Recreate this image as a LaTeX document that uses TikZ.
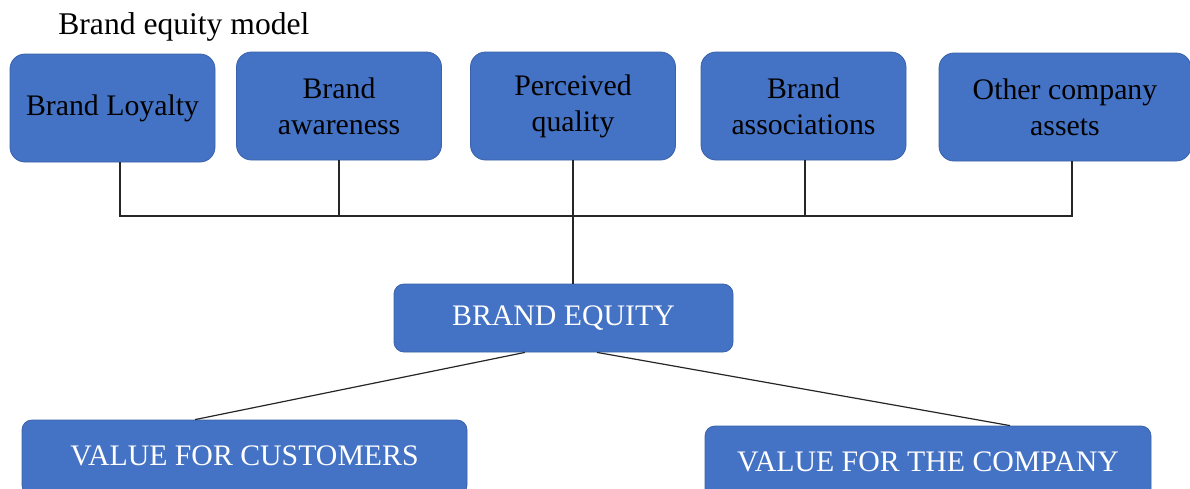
\documentclass[tikz,border=0pt]{standalone}
\usepackage{fontspec}
\setmainfont{Liberation Serif}
\usetikzlibrary{calc}
\definecolor{boxblue}{HTML}{4472C4}
\definecolor{boxedge}{HTML}{3A62AA}

\begin{document}
\begin{tikzpicture}[x=0.5pt, y=-0.5pt,
	topbox/.style={draw=boxedge, fill=boxblue, rounded corners=7.5pt, minimum width=102.5pt, minimum height=54pt,
		inner sep=0pt, align=center, text=black, font=\fontsize{14.9}{18}\selectfont},
	valbox/.style={draw=boxedge, fill=boxblue, rounded corners=5pt, inner sep=0pt, align=center, text=white,
		font=\fontsize{14.9}{18}\selectfont},
	link/.style={draw=black!85, line width=0.6pt}]
		\useasboundingbox (0,0) rectangle (1190,488);
		\clip (0,0) rectangle (1190,488);
		% title
		\node[anchor=west, inner sep=0pt, font=\fontsize{15.8}{19}\selectfont] (title) at (58,27) {Brand equity model};
		% brand equity components
		\node[topbox] (loyal) at (112.5,108) {Brand Loyalty};
		\node[topbox] (aware) at (339,106) {Brand\\awareness};
		\node[topbox] (qual) at (573,106) {Perceived\\quality};
		\node[topbox] (assoc) at (803.5,106) {Brand\\associations};
		\node[topbox, minimum width=126pt] (other) at (1065,107) {Other company\\assets};
		% centre and values
		\node[valbox, minimum width=169.5pt, minimum height=34pt] (equity) at (563.5,318) {BRAND EQUITY};
		\node[valbox, minimum width=222.5pt, text height=22.5pt, text depth=15pt] (cust) at (244.5,457.5) {VALUE FOR CUSTOMERS};
		\node[valbox, minimum width=223pt, text height=22.5pt, text depth=15pt] (comp) at (928,463.5) {VALUE FOR THE COMPANY};
		% connectors
		\coordinate (barL) at (120,216);
		\coordinate (barR) at (1072,216);
		\draw[link] ($(loyal.south)+(7.5,0)$) -- (barL) -- (barR) -- ($(other.south)+(7,0)$);
		\draw[link] (aware.south) -- (aware.south |- barL);
		\draw[link] ($(assoc.south)+(1.5,0)$) -- ($(assoc.south |- barL)+(1.5,0)$);
		\draw[link] (qual.south) -- (equity.north -| qual.south);
		\draw[link] ($(equity.south)+(-38.5,0)$) -- ($(cust.north)+(-49.5,0)$);
		\draw[link] ($(equity.south)+(33.5,0)$) -- ($(comp.north)+(82,0)$);
\end{tikzpicture}
\end{document}
